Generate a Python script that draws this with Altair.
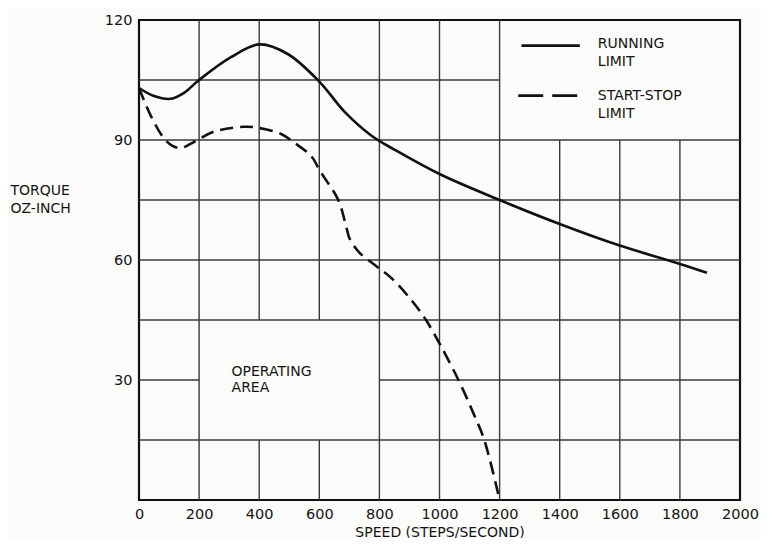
import altair as alt
import pandas as pd

# ---- data ----
run_speed = [0, 50, 106, 150, 200, 306, 400, 495, 600, 686, 775, 850, 1000, 1200, 1400, 1600, 1800, 1890]
run_torque = [103, 101, 100.3, 101.8, 105, 110.7, 113.9, 111.5, 104.6, 96.9, 91, 87.6, 81.5, 75, 69, 63.6, 59, 56.8]

ss_speed = [0, 39, 83, 110, 139, 178, 250, 350, 400, 473, 519, 573, 602, 663, 690, 701, 734, 789, 841, 906, 955, 1003, 1063, 1111, 1149, 1200]
ss_torque = [103, 96.1, 90.4, 88.6, 88, 89.3, 92.1, 93.3, 93, 91.5, 89.2, 86, 82.3, 75, 68.2, 65.3, 61.8, 58.5, 55.4, 50, 45, 38.7, 30, 22, 15, 0]

x_ticks = [0, 200, 400, 600, 800, 1000, 1200, 1400, 1600, 1800, 2000]
y_ticks = [30, 60, 90, 120]

# grid segments (chart paper with blank boxes for legend and label)
v_grid_x = [200, 400, 400, 600, 600, 800, 1000, 1200, 1400, 1600, 1800]
v_grid_y1 = [0, 0, 45, 0, 45, 0, 0, 0, 0, 0, 0]
v_grid_y2 = [120, 15, 120, 15, 120, 120, 120, 120, 90, 90, 90]

h_grid_y = [105, 90, 75, 60, 45, 30, 30, 15]
h_grid_x1 = [0, 0, 0, 0, 0, 0, 800, 0]
h_grid_x2 = [1200, 2000, 2000, 2000, 2000, 200, 2000, 2000]

legend_labels = ["RUNNING", "LIMIT", "START-STOP", "LIMIT"]
legend_text_x = [1527, 1527, 1527, 1527]
legend_text_y = [113.9, 109.4, 101.1, 96.6]
legend_line_series = ["RUNNING LIMIT", "START-STOP LIMIT"]
legend_line_x1 = [1273, 1262]
legend_line_x2 = [1467, 1467]
legend_line_y = [113.6, 101.1]

area_labels = ["OPERATING", "AREA"]
area_x = [308, 308]
area_y = [32, 28]

FONT = "DejaVu Sans"
INK = "#141414"

xscale = alt.Scale(domain=[0, 2000], nice=False, zero=False)
yscale = alt.Scale(domain=[0, 120], nice=False)

vgrid = pd.DataFrame({"x": v_grid_x, "y1": v_grid_y1, "y2": v_grid_y2})
hgrid = pd.DataFrame({"y": h_grid_y, "x1": h_grid_x1, "x2": h_grid_x2})
run_df = pd.DataFrame({"speed": run_speed, "torque": run_torque})
ss_df = pd.DataFrame({"speed": ss_speed, "torque": ss_torque})
leg_txt = pd.DataFrame({"t": legend_labels, "x": legend_text_x, "y": legend_text_y})
leg_run = pd.DataFrame({"s": [legend_line_series[0]], "x1": [legend_line_x1[0]], "x2": [legend_line_x2[0]], "y": [legend_line_y[0]]})
leg_ss = pd.DataFrame({"s": [legend_line_series[1]], "x1": [legend_line_x1[1]], "x2": [legend_line_x2[1]], "y": [legend_line_y[1]]})
area_df = pd.DataFrame({"t": area_labels, "x": area_x, "y": area_y})

x_axis = alt.Axis(
    values=x_ticks, format="d", grid=False, ticks=False, domain=False, labelPadding=7,
    labelFlush=False, labelOverlap=False,
    labelFont=FONT, labelFontSize=14.5, labelColor=INK,
    title="SPEED (STEPS/SECOND)", titleFont=FONT, titleFontSize=14, titleFontWeight="normal",
    titleColor=INK, titleY=36, titleBaseline="alphabetic",
)
y_axis = alt.Axis(
    values=y_ticks, grid=False, ticks=False, domain=False, labelPadding=7,
    labelFont=FONT, labelFontSize=14.5, labelColor=INK,
    title=["TORQUE", "OZ-INCH"], titleAngle=0, titleAlign="left", titleBaseline="alphabetic",
    titleX=-129, titleY=174, titleFont=FONT, titleFontSize=14, titleFontWeight="normal",
    titleColor=INK, titleLineHeight=18,
)

vrules = alt.Chart(vgrid).mark_rule(color="#3a3a3a", strokeWidth=1.4).encode(
    x=alt.X("x:Q", scale=xscale, axis=x_axis),
    y=alt.Y("y1:Q", scale=yscale, axis=y_axis),
    y2="y2:Q",
)
hrules = alt.Chart(hgrid).mark_rule(color="#3a3a3a", strokeWidth=1.4).encode(
    y=alt.Y("y:Q", scale=yscale),
    x=alt.X("x1:Q", scale=xscale),
    x2="x2:Q",
)

run_line = alt.Chart(run_df).mark_line(color="#111", strokeWidth=2.6, interpolate="catmull-rom").encode(
    x=alt.X("speed:Q", scale=xscale), y=alt.Y("torque:Q", scale=yscale)
)
ss_line = alt.Chart(ss_df).mark_line(
    color="#111", strokeWidth=2.6, interpolate="catmull-rom", strokeDash=[13, 7]
).encode(x=alt.X("speed:Q", scale=xscale), y=alt.Y("torque:Q", scale=yscale))

leg_run_rule = alt.Chart(leg_run).mark_rule(color="#111", strokeWidth=2.6).encode(
    x=alt.X("x1:Q", scale=xscale), x2="x2:Q", y=alt.Y("y:Q", scale=yscale)
)
leg_ss_rule = alt.Chart(leg_ss).mark_rule(color="#111", strokeWidth=2.6, strokeDash=[25, 9]).encode(
    x=alt.X("x1:Q", scale=xscale), x2="x2:Q", y=alt.Y("y:Q", scale=yscale)
)
leg_text = alt.Chart(leg_txt).mark_text(
    align="left", baseline="middle", font=FONT, fontSize=14, color=INK
).encode(x=alt.X("x:Q", scale=xscale), y=alt.Y("y:Q", scale=yscale), text="t:N")

area_text = alt.Chart(area_df).mark_text(
    align="left", baseline="middle", font=FONT, fontSize=14, color=INK
).encode(x=alt.X("x:Q", scale=xscale), y=alt.Y("y:Q", scale=yscale), text="t:N")

chart = alt.layer(
    vrules, hrules, run_line, ss_line, leg_run_rule, leg_ss_rule, leg_text, area_text
).properties(
    width=601, height=480,
    autosize=alt.AutoSizeParams(type="none"),
    padding={"left": 131, "top": 12, "right": 21, "bottom": 38},
    background="#fbfbf9",
).configure_view(stroke="#111", strokeWidth=2.2)

chart.save("out.html", embed_options={"renderer": "svg", "actions": False})
